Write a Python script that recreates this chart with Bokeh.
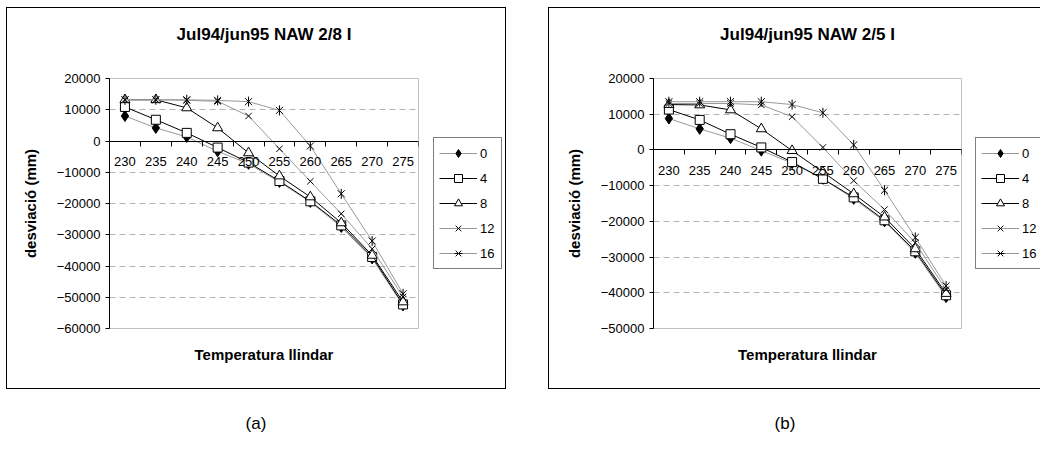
import math
from bokeh.plotting import figure
from bokeh.layouts import row, column
from bokeh.models import FixedTicker, LinearAxis, Legend, LegendItem, Div
from bokeh.embed import file_html
from bokeh.resources import INLINE

# ---------------- data ----------------
temps = [230, 235, 240, 245, 250, 255, 260, 265, 270, 275]
tick_bounds = [227.5, 232.5, 237.5, 242.5, 247.5, 252.5, 257.5, 262.5, 267.5, 272.5, 277.5]
series_names = ["0", "4", "8", "12", "16"]

a_0 = [8000, 4200, 1300, -3300, -7300, -13100, -19500, -27500, -37600, -52600]
a_4 = [10900, 6800, 2600, -2100, -6900, -12800, -19300, -27000, -37100, -52300]
a_8 = [13200, 13200, 10600, 4200, -3800, -11200, -17900, -26200, -36600, -51500]
a_12 = [13200, 13200, 13000, 12700, 8000, -2500, -12900, -23300, -34500, -49900]
a_16 = [13200, 13200, 13200, 13000, 12600, 9800, -1600, -16900, -32000, -48900]

b_0 = [8800, 5900, 3300, -200, -3700, -8100, -13700, -20000, -28800, -41200]
b_4 = [11300, 8400, 4400, 700, -3400, -8100, -13300, -19700, -28400, -40700]
b_8 = [12700, 12600, 11200, 5900, -200, -6200, -12300, -18800, -27700, -40200]
b_12 = [13000, 13000, 13000, 12600, 9300, 700, -8600, -16700, -26000, -39100]
b_16 = [13500, 13500, 13500, 13500, 12700, 10400, 1400, -11300, -24500, -38100]

y_ticks_a = [20000, 10000, 0, -10000, -20000, -30000, -40000, -50000, -60000]
y_ticks_b = [20000, 10000, 0, -10000, -20000, -30000, -40000, -50000]

title_a = "Jul94/jun95 NAW 2/8 I"
title_b = "Jul94/jun95 NAW 2/5 I"
x_title = "Temperatura llindar"
y_title = "desviació (mm)"

FONT = "Liberation Sans"
GRAY = "#999999"

STYLES = [
    dict(line_color=GRAY, marker="diamond", size=11, fill_color="black"),
    dict(line_color="black", marker="square", size=9, fill_color="white"),
    dict(line_color="black", marker="triangle", size=10, fill_color="white"),
    dict(line_color=GRAY, marker="x", size=9, fill_color="black"),
    dict(line_color=GRAY, marker="x", size=10, fill_color="black", star=True),
]


def draw_series(p, series):
    groups = []
    for name, ys, st in zip(series_names, series, STYLES):
        rs = [p.line(temps, ys, line_color=st["line_color"], line_width=1)]
        rs.append(p.scatter(temps, ys, marker=st["marker"], size=st["size"],
                            fill_color=st["fill_color"], line_color="black", line_width=1))
        if st.get("star"):
            rs.append(p.scatter(temps, ys, marker="dash", angle=math.pi / 2, size=st["size"],
                                line_color="black", line_width=1))
        groups.append((name, rs))
    return groups


def make(title, series, y_ticks, width, mb_left):
    ymin = min(y_ticks)
    p = figure(width=width, height=380, x_range=(227.5, 277.5), y_range=(ymin, 20000),
               output_backend="svg", toolbar_location=None,
               min_border_left=mb_left, min_border_right=9,
               min_border_top=70, min_border_bottom=60)
    p.background_fill_color = "white"
    p.border_fill_color = "white"
    p.outline_line_color = "#c0c0c0"
    p.outline_line_width = 1

    p.xgrid.visible = False
    p.ygrid.ticker = FixedTicker(ticks=[t for t in y_ticks if t != 0])
    p.ygrid.grid_line_color = "#b4b4b4"
    p.ygrid.grid_line_dash = "6 4"

    ya = p.yaxis[0]
    ya.ticker = FixedTicker(ticks=y_ticks)
    ya.major_tick_out = 4
    ya.major_tick_in = 0
    ya.minor_tick_out = 0
    ya.minor_tick_in = 0
    ya.axis_line_color = "black"
    ya.major_tick_line_color = "black"
    ya.major_label_text_font = FONT
    ya.major_label_text_font_size = "13px"
    ya.major_label_text_color = "black"
    ya.major_label_standoff = 5
    ya.axis_label = y_title
    ya.axis_label_text_font = FONT
    ya.axis_label_text_font_size = "15px"
    ya.axis_label_text_font_style = "bold"
    ya.axis_label_text_color = "black"
    ya.axis_label_standoff = 15

    xa = p.xaxis[0]
    xa.fixed_location = 0
    xa.ticker = FixedTicker(ticks=temps, minor_ticks=tick_bounds)
    xa.major_tick_out = 0
    xa.major_tick_in = 0
    xa.minor_tick_out = 5
    xa.minor_tick_in = 0
    xa.minor_tick_line_color = "black"
    xa.axis_line_color = "black"
    xa.major_label_text_font = FONT
    xa.major_label_text_font_size = "13px"
    xa.major_label_text_color = "black"
    xa.major_label_standoff = 11

    xt = LinearAxis(ticker=FixedTicker(ticks=[]), axis_line_color=None,
                    major_tick_out=0, major_tick_in=0, minor_tick_out=0, minor_tick_in=0,
                    major_label_standoff=0, axis_label=x_title, axis_label_standoff=17,
                    axis_label_text_font=FONT, axis_label_text_font_size="15px",
                    axis_label_text_font_style="bold", axis_label_text_color="black")
    p.add_layout(xt, "below")

    tt = LinearAxis(ticker=FixedTicker(ticks=[]), axis_line_color=None,
                    major_tick_out=0, major_tick_in=0, minor_tick_out=0, minor_tick_in=0,
                    major_label_standoff=0, axis_label=title, axis_label_standoff=35,
                    axis_label_text_font=FONT, axis_label_text_font_size="17px",
                    axis_label_text_font_style="bold", axis_label_text_color="black")
    p.add_layout(tt, "above")

    draw_series(p, series)
    return p


def make_legend(series, width, lx):
    q = figure(width=width, height=380, x_range=(0, 1), y_range=(0, 1),
               x_axis_type=None, y_axis_type=None, output_backend="svg",
               toolbar_location=None, min_border=0)
    q.outline_line_color = None
    q.background_fill_color = "white"
    q.border_fill_color = "white"
    q.xgrid.visible = False
    q.ygrid.visible = False
    groups = draw_series(q, series)  # data lies outside this panel's ranges: only the legend shows
    items = [LegendItem(label=n, renderers=rs) for n, rs in groups]
    leg = Legend(items=items, location=(lx, 59), margin=0, padding=5, spacing=5,
                 label_height=20, glyph_height=20, glyph_width=38, label_standoff=3,
                 label_width=16, border_line_color="black", border_line_width=1,
                 background_fill_color="white", background_fill_alpha=1,
                 label_text_font=FONT, label_text_font_size="13px", label_text_color="black")
    q.add_layout(leg)
    return q


def caption(text, width, margin):
    return Div(text=text, width=width, height=22, margin=margin,
               styles={"font-family": FONT, "font-size": "17px", "text-align": "center",
                       "line-height": "22px", "color": "black"})


sa = [a_0, a_4, a_8, a_12, a_16]
sb = [b_0, b_4, b_8, b_12, b_16]

r1 = row(make(title_a, sa, y_ticks_a, 420, 102), make_legend(sa, 78, 6),
         margin=(8, 15, 0, 7), styles={"outline": "1px solid black"})
r2 = row(make(title_b, sb, y_ticks_b, 421, 104), make_legend(sb, 70, 5),
         margin=(8, 0, 0, 29), styles={"outline": "1px solid black"})

c1 = column(r1, caption("(a)", 498, (25, 15, 0, 7)))
c2 = column(r2, caption("(b)", 472, (25, 0, 0, 29)))

layout = row(c1, c2)
open("out.html", "w").write(file_html(layout, INLINE))
